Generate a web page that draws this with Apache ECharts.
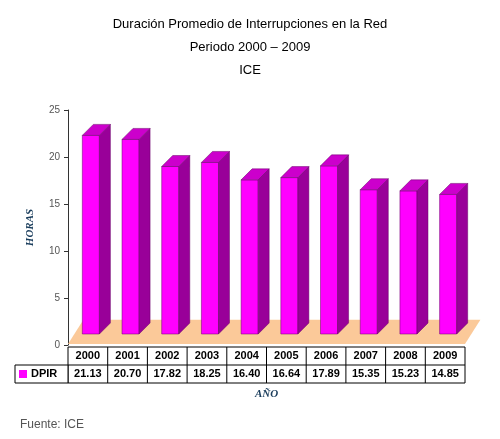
<!DOCTYPE html>
<html><head><meta charset="utf-8">
<script src="https://cdn.jsdelivr.net/npm/echarts@6/dist/echarts.min.js"></script>
<style>body{margin:0}#c{width:500px;height:439px}</style></head>
<body><div id="c"></div>
<script>
const years=['2000','2001','2002','2003','2004','2005','2006','2007','2008','2009'];
const dpir=[21.13,20.70,17.82,18.25,16.40,16.64,17.89,15.35,15.23,14.85];
const yTicks=[0,5,10,15,20,25];
const chart=echarts.init(document.getElementById('c'));
const D=11;
chart.setOption({
  animation:false,
  title:{text:'Duración Promedio de Interrupciones en la Red\nPeriodo 2000 – 2009\nICE',left:'center',top:8,
    textStyle:{fontFamily:'Liberation Sans',fontSize:13,fontWeight:'normal',color:'#000',lineHeight:23}},
  grid:{left:68,right:35,top:110,bottom:94},
  xAxis:{type:'category',data:years,axisLine:{show:false},axisTick:{show:false},axisLabel:{show:false}},
  yAxis:{type:'value',min:0,max:25,interval:5,axisLine:{show:true,lineStyle:{color:'#333'}},axisTick:{show:true,length:4,lineStyle:{color:'#333'}},
    splitLine:{show:false},axisLabel:{color:'#555',fontSize:10,fontFamily:'Liberation Sans'},
    name:'HORAS',nameLocation:'middle',nameGap:32,nameTextStyle:{fontFamily:'Liberation Serif',fontStyle:'italic',fontWeight:'bold',fontSize:11,color:'#1a3d5c'}},
  series:[{type:'custom',renderItem:function(p,api){
    const idx=api.value(0);const v=api.value(1);
    const c=api.coord([idx,v]);const b=api.coord([idx,0]);
    const w=api.size([1,0])[0];
    const children=[];
    if(p.dataIndex===0){
      const s=api.size([1,0])[0];
      const x0=api.coord([0,0])[0]-s/2, x1=api.coord([years.length-1,0])[0]+s/2;
      children.push({type:'polygon',shape:{points:[[x0,b[1]-D*0.1],[x1,b[1]-D*0.1],[x1+D*1.4,b[1]-D*2.3],[x0+D*1.4,b[1]-D*2.3]]},style:{fill:'#FBC999'}});
    }
    const fw=w*0.43;const fx=c[0]-fw/2+3;const by=b[1]-D;const ty=c[1]-D;
    const st={stroke:'#660066',lineWidth:0.5};
    children.push({type:'rect',shape:{x:fx,y:ty,width:fw,height:by-ty},style:Object.assign({fill:'#FF00FF'},st)});
    children.push({type:'polygon',shape:{points:[[fx+fw,ty],[fx+fw+D,ty-D],[fx+fw+D,by-D],[fx+fw,by]]},style:Object.assign({fill:'#990099'},st)});
    children.push({type:'polygon',shape:{points:[[fx,ty],[fx+D,ty-D],[fx+fw+D,ty-D],[fx+fw,ty]]},style:Object.assign({fill:'#CC00CC'},st)});
    return {type:'group',children:children};
  },data:dpir.map((v,i)=>[i,v]),z:2}]
});
const g=[];
const s=chart.convertToPixel({xAxisIndex:0},years[1])-chart.convertToPixel({xAxisIndex:0},years[0]);
const xs=years.map(y=>chart.convertToPixel({xAxisIndex:0},y));
const left=xs[0]-s/2,right=xs[xs.length-1]+s/2;
const y0=chart.convertToPixel({yAxisIndex:0},0)+2,rh=18,lx=15;
const ls={stroke:'#000',lineWidth:1};
g.push({type:'rect',shape:{x:left,y:y0,width:right-left,height:rh*2},style:{fill:'#fff',stroke:'#000'}});
g.push({type:'rect',shape:{x:lx,y:y0+rh,width:left-lx,height:rh},style:{fill:'#fff',stroke:'#000'}});
g.push({type:'line',shape:{x1:left,y1:y0+rh,x2:right,y2:y0+rh},style:ls});
for(let i=1;i<years.length;i++)g.push({type:'line',shape:{x1:left+i*s,y1:y0,x2:left+i*s,y2:y0+rh*2},style:ls});
years.forEach((y,i)=>{
  g.push({type:'text',x:xs[i],y:y0+rh/2,style:{text:y,align:'center',verticalAlign:'middle',font:'bold 11px Liberation Sans',fill:'#000'}});
  g.push({type:'text',x:xs[i],y:y0+rh*1.5,style:{text:dpir[i].toFixed(2),align:'center',verticalAlign:'middle',font:'bold 11px Liberation Sans',fill:'#000'}});
});
g.push({type:'rect',shape:{x:lx+4,y:y0+rh*1.5-4,width:8,height:8},style:{fill:'#FF00FF'}});
g.push({type:'text',x:lx+16,y:y0+rh*1.5,style:{text:'DPIR',verticalAlign:'middle',font:'bold 11px Liberation Sans',fill:'#000'}});
g.push({type:'text',x:(left+right)/2,y:y0+rh*2+11,style:{text:'AÑO',align:'center',verticalAlign:'middle',font:'italic bold 11px Liberation Serif',fill:'#1a3d5c'}});
g.push({type:'text',x:20,y:425,style:{text:'Fuente: ICE',verticalAlign:'middle',font:'12px Liberation Sans',fill:'#555'}});
chart.setOption({graphic:g});
</script></body></html>
